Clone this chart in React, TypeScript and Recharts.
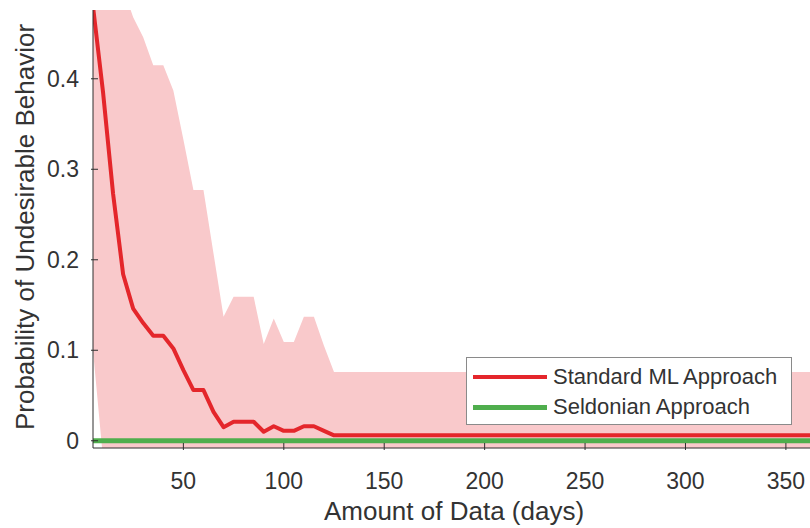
import { ComposedChart, Area, Line, XAxis, YAxis, Legend } from "recharts"

// days sampled every 5 days; curves are flat after day 125
const days = [5, 10, 15, 20, 25, 30, 35, 40, 45, 50, 55, 60, 65, 70, 75, 80, 85, 90, 95, 100, 105, 110, 115, 120, 125, 365]
const standardML = [0.48, 0.385, 0.273, 0.184, 0.146, 0.13, 0.116, 0.116, 0.102, 0.078, 0.056, 0.056, 0.032, 0.015, 0.021, 0.021, 0.021, 0.01, 0.016, 0.011, 0.011, 0.016, 0.016, 0.011, 0.006, 0.006]
const bandHigh = [0.6, 0.6, 0.6, 0.5, 0.468, 0.446, 0.415, 0.415, 0.387, 0.333, 0.277, 0.277, 0.207, 0.137, 0.159, 0.159, 0.159, 0.107, 0.135, 0.109, 0.109, 0.137, 0.137, 0.105, 0.076, 0.076]
const bandLow = [0.1, -0.02, -0.02, -0.02, -0.02, -0.02, -0.02, -0.02, -0.02, -0.02, -0.02, -0.02, -0.02, -0.02, -0.02, -0.02, -0.02, -0.02, -0.02, -0.02, -0.02, -0.02, -0.02, -0.02, -0.02, -0.02]
const seldonian = [0, 0, 0, 0, 0, 0, 0, 0, 0, 0, 0, 0, 0, 0, 0, 0, 0, 0, 0, 0, 0, 0, 0, 0, 0, 0]

const xTicks = [50, 100, 150, 200, 250, 300, 350]
const yTicks = [0, 0.1, 0.2, 0.3, 0.4]

const chartData = days.map((d, i) => ({
  day: d,
  ml: standardML[i],
  band: [bandLow[i], bandHigh[i]],
  seldonian: seldonian[i],
}))

const FONT = '"Liberation Sans", Arial, sans-serif'
const AXIS = "#2e2e2e"
const TEXT = "#333333"
const RED = "#e4262b"
const GREEN = "#4fae4d"
const PINK = "#f9c9cb"

const XTick = ({ x, y, payload }: any) => (
  <g>
    <line x1={x} x2={x} y1={y} y2={y - 7} stroke={AXIS} strokeWidth={1} />
    <text x={x} y={y + 39} textAnchor="middle" fontSize={23} fill={TEXT} fontFamily={FONT}>
      {payload.value}
    </text>
  </g>
)

const YTick = ({ x, y, payload }: any) => (
  <g>
    <line x1={x} x2={x + 7} y1={y} y2={y} stroke={AXIS} strokeWidth={1} />
    <text x={x - 12} y={y + 8} textAnchor="end" fontSize={23} fill={TEXT} fontFamily={FONT}>
      {payload.value === 0 ? "0" : payload.value.toFixed(1)}
    </text>
  </g>
)

function LegendBox() {
  const rows = [
    { label: "Standard ML Approach", color: RED, w: 4 },
    { label: "Seldonian Approach", color: GREEN, w: 5 },
  ]
  return (
    <div
      style={{
        boxSizing: "border-box",
        width: 326,
        height: 68,
        border: "1px solid #8a8a8a",
        background: "#fff",
        padding: "4px 0 0 6px",
        fontFamily: FONT,
        fontSize: 22,
        color: TEXT,
      }}
    >
      {rows.map((r) => (
        <div key={r.label} style={{ display: "flex", alignItems: "center", height: 30 }}>
          <div style={{ width: 74, height: r.w, background: r.color, marginRight: 6 }} />
          <span style={{ lineHeight: "30px", whiteSpace: "nowrap" }}>{r.label}</span>
        </div>
      ))}
    </div>
  )
}

export default function App() {
  return (
    <div style={{ position: "absolute", left: 0, top: 0, width: 810, height: 528, background: "#fff", overflow: "hidden" }}>
      <ComposedChart width={810} height={528} data={chartData} margin={{ top: 10, right: 0, left: 0, bottom: 0 }}>
        <Area
          type="linear"
          dataKey="band"
          stroke="none"
          fill={PINK}
          fillOpacity={1}
          isAnimationActive={false}
          activeDot={false}
        />
        <Line
          type="linear"
          dataKey="ml"
          stroke={RED}
          strokeWidth={4}
          strokeLinejoin="round"
          dot={false}
          activeDot={false}
          isAnimationActive={false}
        />
        <Line
          type="linear"
          dataKey="seldonian"
          stroke={GREEN}
          strokeWidth={5}
          dot={false}
          activeDot={false}
          isAnimationActive={false}
        />
        <XAxis
          dataKey="day"
          type="number"
          domain={[5, 362]}
          allowDataOverflow
          ticks={xTicks}
          interval={0}
          height={80}
          tickSize={0}
          tickLine={false}
          stroke={AXIS}
          tick={<XTick />}
          zIndex={1000}
        />
        <YAxis
          type="number"
          domain={[-0.008, 0.476]}
          allowDataOverflow
          ticks={yTicks}
          interval={0}
          width={93}
          tickSize={0}
          tickLine={false}
          stroke={AXIS}
          tick={<YTick />}
          zIndex={1000}
        />
        <Legend
          layout="vertical"
          align="center"
          verticalAlign="middle"
          content={() => <LegendBox />}
          wrapperStyle={{ left: 466, top: 357, width: 326, height: 68 }}
        />
      </ComposedChart>
      <svg width={810} height={528} style={{ position: "absolute", left: 0, top: 0, pointerEvents: "none" }}>
        <text
          transform="translate(34, 227) rotate(-90)"
          textAnchor="middle"
          fontSize={26}
          fill={TEXT}
          fontFamily={FONT}
        >
          Probability of Undesirable Behavior
        </text>
        <text x={454} y={520} textAnchor="middle" fontSize={26} fill={TEXT} fontFamily={FONT}>
          Amount of Data (days)
        </text>
      </svg>
    </div>
  )
}
